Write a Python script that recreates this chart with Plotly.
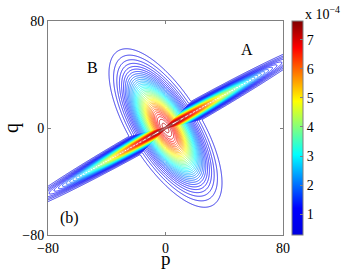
import numpy as np
import plotly.graph_objects as go

# ---- data (values in units of 1e-4) ----
p_range = [-80, 80]
q_range = [-80, 80]
axis_ticks = [-80, 0, 80]
component_names = ["A", "B"]
peak_height = [7.7, 7.35]          # x 1e-4
axis_angle_deg = [31.8, 118.6]     # orientation of the long axis
sigma_major = [46.6, 26.0]
sigma_minor = [3.1, 9.8]
level_start = 0.29
level_end = 7.64
n_levels = 40
cbar_ticks = [1, 2, 3, 4, 5, 6, 7]
cbar_ticktext = ["1", "2", "3", "4", "5", "6", "7"]

# ---- grid ----
p = np.linspace(p_range[0], p_range[1], 561)
q = np.linspace(q_range[0], q_range[1], 561)
P, Q = np.meshgrid(p, q)
Z = np.zeros_like(P)
for A, ang, su, sv in zip(peak_height, axis_angle_deg, sigma_major, sigma_minor):
    t = np.deg2rad(ang)
    u = P * np.cos(t) + Q * np.sin(t)
    v = -P * np.sin(t) + Q * np.cos(t)
    G = A * np.exp(-(u ** 2) / (2 * su ** 2) - (v ** 2) / (2 * sv ** 2))
    Z = np.maximum(Z, G)

jet = [
    [0.0, "rgb(0,0,225)"],
    [0.125, "rgb(0,0,255)"],
    [0.375, "rgb(0,255,255)"],
    [0.625, "rgb(255,255,0)"],
    [0.875, "rgb(255,0,0)"],
    [1.0, "rgb(128,0,0)"],
]

step = (level_end - level_start) / (n_levels - 1)

fig = go.Figure()
fig.add_trace(go.Contour(
    x=p, y=q, z=Z,
    colorscale=jet, zmin=level_start, zmax=level_end, zauto=False,
    contours=dict(start=level_start, end=level_end + 1e-6, size=step, coloring="lines"),
    line=dict(width=0.8),
    showscale=False, hoverinfo="skip",
))

SERIF = "Liberation Serif, Times New Roman, serif"

# colour bar through an invisible marker trace
fig.add_trace(go.Scatter(
    x=[0], y=[0], mode="markers",
    marker=dict(
        color=[level_start], colorscale=jet, cmin=level_start, cmax=level_end,
        opacity=0, size=1, showscale=True,
        colorbar=dict(
            x=(292 - 48) / 235, xanchor="left", y=0.5, yanchor="middle",
            len=1, lenmode="fraction", thickness=11,
            xpad=0, ypad=0,
            outlinewidth=1, outlinecolor="#808080",
            tickvals=cbar_ticks, ticktext=cbar_ticktext,
            ticks="inside", ticklen=3, tickcolor="#808080",
            tickfont=dict(family=SERIF, size=14, color="black"),
        ),
    ),
    hoverinfo="skip", showlegend=False,
))

axis_common = dict(
    range=p_range, tickvals=axis_ticks, ticks="inside", ticklen=3,
    tickcolor="#808080", showline=True, linecolor="#808080", linewidth=1,
    mirror="allticks", showgrid=False, zeroline=False,
    tickfont=dict(family=SERIF, size=14, color="black"),
)

fig.update_layout(
    width=346, height=273,
    margin=dict(l=48, r=63, t=21, b=38, autoexpand=False),
    paper_bgcolor="white", plot_bgcolor="white",
    showlegend=False,
    xaxis=dict(**axis_common),
    yaxis=dict(**{**axis_common, "range": q_range}),
    annotations=[
        dict(x=55.5, y=58.9, xref="x", yref="y", text="A", showarrow=False,
             font=dict(family=SERIF, size=16, color="black")),
        dict(x=-50, y=45.5, xref="x", yref="y", text="B", showarrow=False,
             font=dict(family=SERIF, size=16, color="black")),
        dict(x=-65.5, y=-67, xref="x", yref="y", text="(b)", showarrow=False,
             font=dict(family=SERIF, size=16, color="black")),
        dict(x=0.5, y=(235 - 259) / 214.3, xref="paper", yref="paper", text="p",
             showarrow=False, yanchor="middle",
             font=dict(family=SERIF, size=19, color="black")),
        dict(x=(11 - 48) / 235, y=0.5, xref="paper", yref="paper", text="q",
             showarrow=False, textangle=-90, xanchor="center",
             font=dict(family=SERIF, size=20, color="black")),
        dict(x=(303 - 48) / 235, y=(235 - 13) / 214.3, xref="paper", yref="paper",
             text="x 10<sup>−4</sup>", showarrow=False, xanchor="left", yanchor="middle",
             font=dict(family=SERIF, size=14, color="black")),
    ],
)

fig.write_html("out.html", config={"displayModeBar": False},
               post_script="document.body.style.margin='0px';")
